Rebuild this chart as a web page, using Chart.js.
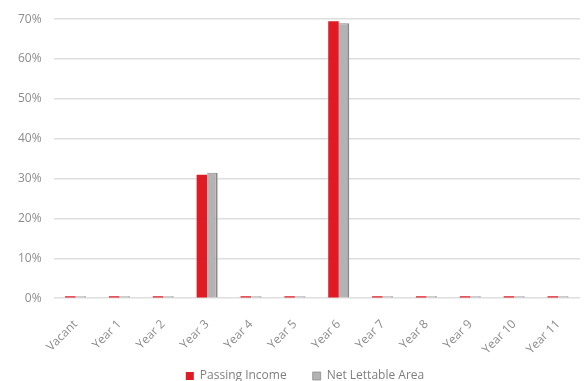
<!DOCTYPE html>
<html>
<head>
<meta charset="utf-8">
<script src="https://cdn.jsdelivr.net/npm/chart.js@4/dist/chart.umd.min.js"></script>
<style>
  html, body { margin: 0; padding: 0; background: #fff; }
  #wrap { width: 586px; height: 381px; }
</style>
</head>
<body>
<div id="wrap"><canvas id="expiry"></canvas></div>
<script>
const categories = ['Vacant', 'Year 1', 'Year 2', 'Year 3', 'Year 4', 'Year 5', 'Year 6', 'Year 7', 'Year 8', 'Year 9', 'Year 10', 'Year 11'];
const passingIncome = [0, 0, 0, 0.31, 0, 0, 0.695, 0, 0, 0, 0, 0];
const netLettableArea = [0, 0, 0, 0.315, 0, 0, 0.69, 0, 0, 0, 0, 0];
const yTicks = [0, 0.1, 0.2, 0.3, 0.4, 0.5, 0.6, 0.7];

Chart.defaults.font.family = "'Open Sans', 'Noto Sans', sans-serif";
Chart.defaults.font.size = 12;
Chart.defaults.color = '#8c8c8c';

// nudge the legend a little up and to the right after layout
const legendNudge = {
  id: 'legendNudge',
  afterLayout(chart) {
    const lg = chart.legend;
    if (!lg) return;
    lg.top -= 9; lg.bottom -= 9;
    lg.left += 12; lg.right += 12;
  }
};

new Chart(document.getElementById('expiry'), {
  type: 'bar',
  data: {
    labels: categories,
    datasets: [
      {
        label: 'Passing Income',
        data: passingIncome,
        backgroundColor: '#e01b24',
        borderWidth: 0,
        minBarLength: 2,
        categoryPercentage: 0.48,
        barPercentage: 1
      },
      {
        label: 'Net Lettable Area',
        data: netLettableArea,
        backgroundColor: '#b3b3b3',
        borderColor: '#8a8a8a',
        borderWidth: { top: 1, right: 2, left: 0, bottom: 0 },
        minBarLength: 2,
        categoryPercentage: 0.48,
        barPercentage: 1
      }
    ]
  },
  options: {
    responsive: true,
    maintainAspectRatio: false,
    animation: false,
    layout: { padding: { top: 10, right: 6, left: 6, bottom: -20 } },
    scales: {
      x: {
        grid: { display: false },
        border: { display: false },
        ticks: { minRotation: 45, maxRotation: 45, color: '#8c8c8c', padding: 11 },
        afterFit: function(scale) { scale.height -= 15; }
      },
      y: {
        min: 0,
        max: 0.7,
        afterBuildTicks: function(axis) {
          axis.ticks = yTicks.map(v => ({ value: v }));
        },
        border: { display: false },
        grid: { color: '#dedede', lineWidth: 1.5, drawTicks: false },
        ticks: {
          padding: 12,
          color: '#8c8c8c',
          callback: function(value) { return Math.round(value * 100) + '%'; }
        }
      }
    },
    plugins: {
      legend: {
        position: 'bottom',
        labels: {
          boxWidth: 8,
          boxHeight: 8,
          padding: 26,
          color: '#7f7f7f'
        }
      },
      tooltip: { enabled: false }
    }
  },
  plugins: [legendNudge]
});
</script>
</body>
</html>
